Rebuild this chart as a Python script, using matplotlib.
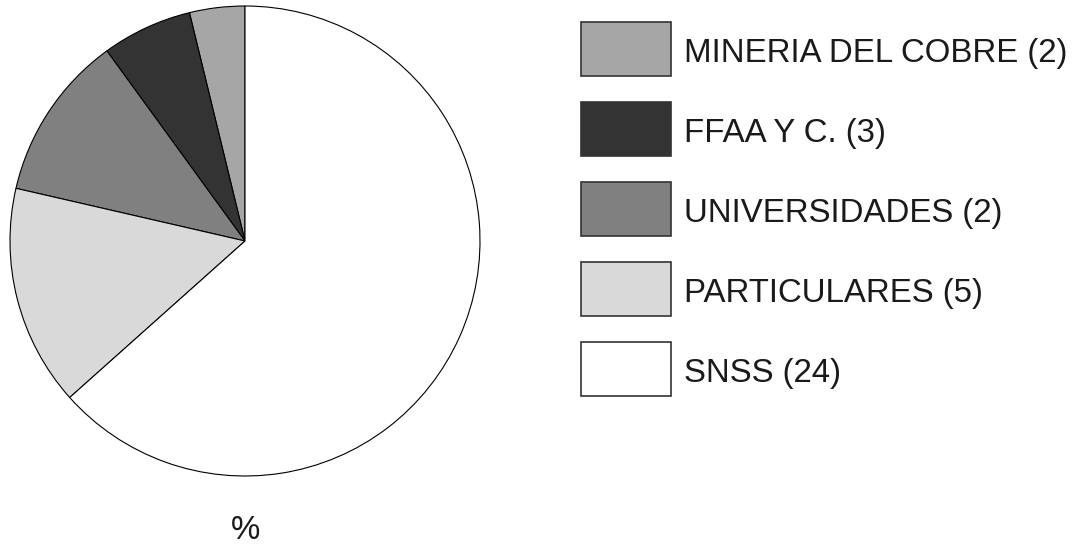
import matplotlib
matplotlib.use('Agg')
import matplotlib.pyplot as plt
from matplotlib.patches import Rectangle

plt.rcParams['font.family'] = ['Liberation Sans', 'DejaVu Sans']

# data (percent shares)
labels = ['MINERIA DEL COBRE (2)', 'FFAA Y C. (3)', 'UNIVERSIDADES (2)',
          'PARTICULARES (5)', 'SNSS (24)']
shares = [3.8, 6.2, 11.4, 15.2, 63.4]
colors = ['#a6a6a6', '#333333', '#808080', '#d9d9d9', '#ffffff']

W, H = 1081, 546
fig = plt.figure(figsize=(W / 100, H / 100), dpi=100)

# pie: centre (245, 241) px, radius 235 px
cx, cy, r = 245, 241, 235
ax = fig.add_axes([(cx - r) / W, (H - cy - r) / H, 2 * r / W, 2 * r / H])
ax.pie(shares, colors=colors, startangle=90, counterclock=True,
       wedgeprops=dict(edgecolor='black', linewidth=0.8))
ax.set_xlim(-1, 1)
ax.set_ylim(-1, 1)
ax.set_aspect('equal')
ax.axis('off')

# legend drawn by hand to match box sizes
bx, bw, bh = 581, 90, 54
for i, (lab, col) in enumerate(zip(labels, colors)):
    top = 22 + i * 80
    fig.add_artist(Rectangle((bx / W, (H - top - bh) / H), bw / W, bh / H,
                             transform=fig.transFigure, facecolor=col,
                             edgecolor='#333333', linewidth=1.2))
    fig.text(684 / W, (H - top - bh / 2 - 13) / H, lab, fontsize=23.8,
             color='#1a1a1a', ha='left', va='baseline')

fig.text(cx / W, (H - 539) / H, '%', fontsize=23.8, color='#1a1a1a',
         ha='center', va='baseline')

fig.savefig('out.png', dpi=100)
